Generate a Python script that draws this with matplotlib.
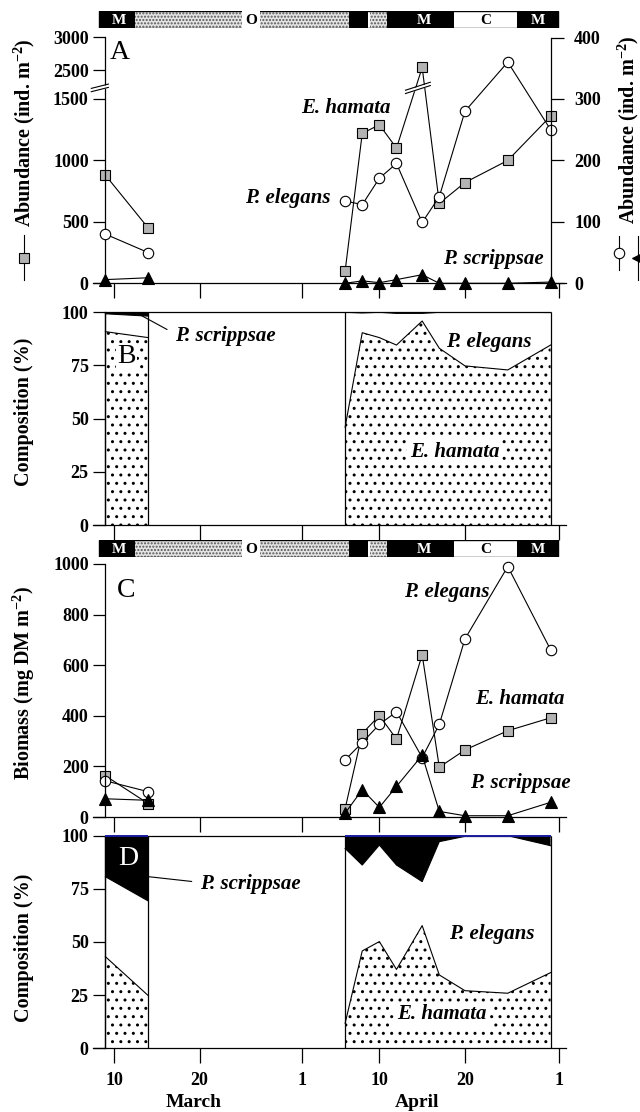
import numpy as np
import matplotlib
matplotlib.use('Agg')
import matplotlib.pyplot as plt
from matplotlib.lines import Line2D
from matplotlib.transforms import blended_transform_factory

plt.rcParams['font.family'] = ['Liberation Serif', 'DejaVu Serif']
plt.rcParams['font.weight'] = 'bold'
plt.rcParams['mathtext.fontset'] = 'custom'
plt.rcParams['mathtext.rm'] = 'Liberation Serif'
plt.rcParams['mathtext.bf'] = 'Liberation Serif:bold'
plt.rcParams['mathtext.it'] = 'Liberation Serif:italic'
plt.rcParams['hatch.linewidth'] = 1.0

# sampling days counted from 1 March (April d -> 31 + d)
days = np.array([9, 14, 37, 39, 41, 43, 46, 48, 51, 56, 61])
segments = [slice(0, 2), slice(2, 11)]

# A: abundance (ind. m-2)
abund_eh = np.array([880, 450, 100, 1220, 1290, 1100, 2540, 650, 820, 1000, 1360])
abund_pe = np.array([80, 50, 134, 128, 171, 195, 99, 141, 280, 360, 250])
abund_ps = np.array([6, 9, 0, 4, 1, 6, 14, 0, 0, 0, 2])

# B: abundance composition (%), upper edge of E. hamata and of E. hamata + P. elegans
compA_eh = np.array([90.9, 88.1, 46.0, 90.4, 88.1, 84.6, 95.9, 83.1, 74.8, 72.9, 84.6])
compA_ehpe = np.array([99.3, 98.2, 100, 99.7, 100, 99.5, 99.5, 100, 100, 100, 99.9])

# C: biomass (mg DM m-2)
bio_eh = np.array([163, 53, 33, 330, 401, 308, 641, 197, 265, 341, 392])
bio_pe = np.array([143, 100, 226, 294, 366, 416, 235, 366, 704, 990, 661])
bio_ps = np.array([72, 66, 15, 108, 38, 121, 244, 22, 5, 5, 58])

# D: biomass composition (%)
compB_eh = np.array([43.1, 24.8, 11.8, 45.8, 50.2, 37.1, 57.7, 34.5, 27.1, 25.9, 35.6])
compB_ehpe = np.array([80.7, 69.3, 94.0, 86.2, 95.6, 86.2, 78.4, 97.2, 99.7, 100, 95.3])

tick_days = [10, 20, 32, 41, 51, 62]
tick_labels = ['10', '20', '1', '10', '20', '1']
month_names = ['March', 'April']
month_days = [19.3, 45.4]

# water-mass periods shown in the bars above A and C
period_start = [8.3, 12.4, 37.5, 39.85, 41.85, 49.7, 57.1]
period_end = [12.4, 37.5, 39.7, 41.85, 49.7, 57.1, 61.9]
period_fill = ['black', 'dots', 'black', 'dots', 'black', 'white', 'black']
period_labels = ['M', 'O', 'M', 'C', 'M']
period_label_days = [10.6, 26.0, 46.2, 53.4, 59.5]

XLIM = (7.55, 62.8)
W, H = 640, 1112


def box(x0, y0, x1, y1):
    return [x0 / W, 1 - y1 / H, (x1 - x0) / W, (y1 - y0) / H]


def fwd(y):
    y = np.asarray(y, dtype=float)
    return np.where(y <= 1590, y / 5.0, 318 + (y - 2226) * 0.106)


def inv(r):
    r = np.asarray(r, dtype=float)
    return np.where(r <= 318, r * 5.0, 2226 + (r - 318) / 0.106)


def style_axes(ax, labels=False):
    ax.set_xlim(XLIM)
    ax.spines['top'].set_visible(False)
    ax.spines['right'].set_visible(False)
    ax.spines['left'].set_position(('data', days[0]))
    for s in ax.spines.values():
        s.set_linewidth(0.9)
    ax.set_xticks(tick_days)
    ax.set_xticklabels(tick_labels if labels else [])
    ax.tick_params(axis='x', direction='out', length=11, width=0.9, pad=6, labelsize=13)
    ax.tick_params(axis='y', direction='out', length=9, width=0.9, pad=3, labelsize=13)
    ax.minorticks_off()
    ax.patch.set_visible(False)


def draw_bar(ax):
    ax.set_xlim(XLIM)
    ax.set_ylim(0, 1)
    ax.axis('off')
    for x0, x1, kind in zip(period_start, period_end, period_fill):
        if kind == 'dots':
            ax.barh(0.5, x1 - x0, left=x0, height=1, facecolor='#e4e4e4',
                    edgecolor='#555555', hatch='.....', linewidth=0)
        else:
            ax.barh(0.5, x1 - x0, left=x0, height=1, color=kind, linewidth=0)
    ax.barh(0.5, period_end[-1] - period_start[0], left=period_start[0], height=1,
            fill=False, edgecolor='black', linewidth=1.0)
    for lab, xd in zip(period_labels, period_label_days):
        if lab == 'M':
            ax.text(xd, 0.45, lab, color='white', ha='center', va='center', fontsize=11)
        elif lab == 'O':
            ax.text(xd, 0.45, lab, color='black', ha='center', va='center', fontsize=11,
                    bbox=dict(facecolor='white', edgecolor='none', pad=2.5))
        else:
            ax.text(xd, 0.45, lab, color='black', ha='center', va='center', fontsize=11)


def draw_break(ax, xc, half_w, yc, rise, gap):
    xs = [xc - half_w, xc + half_w]
    lo = [yc - rise - gap, yc + rise - gap]
    hi = [yc - rise + gap, yc + rise + gap]
    ax.fill_between(xs, lo, hi, color='white', linewidth=0, zorder=5, clip_on=False)
    ax.plot(xs, lo, color='black', lw=0.8, zorder=6, clip_on=False)
    ax.plot(xs, hi, color='black', lw=0.8, zorder=6, clip_on=False)


def draw_composition(ax, eh, ehpe, top_color):
    ax.set_ylim(0, 100)
    ax.set_yticks([0, 25, 50, 75, 100])
    for seg in segments:
        x = days[seg]
        ax.fill_between(x, 0, eh[seg], facecolor='white', edgecolor='black',
                        hatch='..', linewidth=0)
        ax.fill_between(x, ehpe[seg], 100, facecolor='black', linewidth=0)
        ax.plot(x, eh[seg], color='black', lw=0.8)
        ax.plot(x, ehpe[seg], color='black', lw=0.8)
        ax.vlines([x[0], x[-1]], 0, 100, colors='black', lw=0.9, clip_on=False)
    ax.hlines(100, days[0], days[-1], colors='black', lw=0.9, clip_on=False)
    if top_color is not None:
        for seg in segments:
            ax.hlines(100, days[seg][0], days[seg][-1], colors=top_color, lw=1.4,
                      clip_on=False, zorder=4)


sq = dict(marker='s', ms=7, mfc='#b3b3b3', mec='black', mew=0.8, color='black',
          lw=0.8, clip_on=False)
ci = dict(marker='o', ms=7.5, mfc='white', mec='black', mew=0.8, color='black',
          lw=0.8, clip_on=False)
tr = dict(marker='^', ms=8, mfc='black', mec='black', mew=0.8, color='black',
          lw=0.8, clip_on=False)
spec = dict(fontsize=15, fontstyle='italic', fontweight='bold')
letter = dict(fontsize=20, fontweight='normal', ha='center', va='center')

fig = plt.figure(figsize=(W / 100, H / 100), dpi=100)

# ---- bar + panel A ----
draw_bar(fig.add_axes(box(93, 11, 566, 28)))

ax_a = fig.add_axes(box(93, 37.5, 566, 283.3))
ax_a.set_yscale('function', functions=(fwd, inv))
ax_a.set_ylim(0, 3000)
style_axes(ax_a)
ax_a.set_yticks([0, 500, 1000, 1500, 2500, 3000])
ax_a.set_yticklabels(['0', '500', '1000', '1500', '2500', '3000'])
ax_a.minorticks_off()
for seg in segments:
    ax_a.plot(days[seg], abund_eh[seg], **sq)

ax_a2 = ax_a.twinx()
ax_a2.set_ylim(0, 400)
ax_a2.set_xlim(XLIM)
for s in ['left', 'top', 'bottom']:
    ax_a2.spines[s].set_visible(False)
ax_a2.spines['right'].set_position(('data', days[-1]))
ax_a2.spines['right'].set_linewidth(0.9)
ax_a2.set_yticks([0, 100, 200, 300, 400])
ax_a2.tick_params(axis='y', direction='out', length=9, width=0.9, pad=8, labelsize=13)
for seg in segments:
    ax_a2.plot(days[seg], abund_pe[seg], **ci)
    ax_a2.plot(days[seg], abund_ps[seg], **tr)
draw_break(ax_a2, 8.35, 1.0, 318, 3.5, 2.7)
draw_break(ax_a2, 45.5, 1.45, 318, 6.5, 2.7)
ax_a2.text(10.7, 376, 'A', **letter)
ax_a2.text(42.3, 285, 'E. hamata', ha='right', va='center', **spec)
ax_a2.text(35.35, 138, 'P. elegans', ha='right', va='center', **spec)
ax_a2.text(60.15, 39, 'P. scrippsae', ha='right', va='center', **spec)

# ---- panel B ----
ax_b = fig.add_axes(box(93, 312.3, 566, 525))
style_axes(ax_b)
draw_composition(ax_b, compA_eh, compA_ehpe, None)
ax_b.text(11.45, 79, 'B', bbox=dict(facecolor='white', edgecolor='none', pad=1), **letter)
ax_b.annotate('P. scrippsae', xy=(13.1, 98.7), xytext=(17.1, 89.0), ha='left', va='center',
              arrowprops=dict(arrowstyle='-', lw=0.8, color='black', relpos=(0, 0.6),
                              shrinkA=4, shrinkB=0), **spec)
ax_b.text(53.8, 85.9, 'P. elegans', ha='center', va='center', **spec)
ax_b.text(49.8, 34.2, 'E. hamata', ha='center', va='center',
          bbox=dict(facecolor='white', edgecolor='none', pad=2), **spec)

# ---- bar + panel C ----
draw_bar(fig.add_axes(box(93, 540, 566, 557)))

ax_c = fig.add_axes(box(93, 564, 566, 817))
style_axes(ax_c)
ax_c.set_ylim(0, 1000)
ax_c.set_yticks([0, 200, 400, 600, 800, 1000])
for seg in segments:
    ax_c.plot(days[seg], bio_eh[seg], **sq)
    ax_c.plot(days[seg], bio_pe[seg], **ci)
    ax_c.plot(days[seg], bio_ps[seg], **tr)
ax_c.text(11.45, 897, 'C', **letter)
ax_c.text(53.85, 890, 'P. elegans', ha='right', va='center', **spec)
ax_c.text(62.7, 465, 'E. hamata', ha='right', va='center', **spec)
ax_c.text(63.4, 133, 'P. scrippsae', ha='right', va='center', **spec)

# ---- panel D ----
ax_d = fig.add_axes(box(93, 835.7, 566, 1048.3))
style_axes(ax_d, labels=True)
draw_composition(ax_d, compB_eh, compB_ehpe, '#1a1aa0')
ax_d.text(11.67, 89.4, 'D', color='white', **letter)
ax_d.annotate('P. scrippsae', xy=(14.08, 80.7), xytext=(20.05, 77.1), ha='left', va='center',
              arrowprops=dict(arrowstyle='-', lw=0.8, color='black', relpos=(0, 0.6),
                              shrinkA=4, shrinkB=0), **spec)
ax_d.text(54.15, 53.6, 'P. elegans', ha='center', va='center', **spec)
ax_d.text(48.26, 16.0, 'E. hamata', ha='center', va='center',
          bbox=dict(facecolor='white', edgecolor='none', pad=2), **spec)
trans = blended_transform_factory(ax_d.transData, ax_d.transAxes)
for name, xd in zip(month_names, month_days):
    ax_d.text(xd, -0.257, name, transform=trans, ha='center', va='center', fontsize=14)

# ---- axis titles with legend glyphs ----
def ftext(x, y, s, **kw):
    fig.text(x / W, 1 - y / H, s, rotation=90, ha='center', va='center', fontsize=14.5, **kw)


def glyph(x, y0, y1, marker, **kw):
    ym = (y0 + y1) / 2
    fig.add_artist(Line2D([x / W] * 3, [1 - y0 / H, 1 - ym / H, 1 - y1 / H],
                          transform=fig.transFigure, color='black', lw=0.8,
                          marker=marker, markevery=[1], **kw))


sup = r'$^{\mathbf{-2}}$'
ftext(24, 133, 'Abundance (ind. m' + sup + ')')
glyph(24, 235, 280, 's', ms=7, mfc='#b3b3b3', mec='black', mew=0.8)
ftext(628, 130, 'Abundance (ind. m' + sup + ')')
glyph(619, 236, 270, 'o', ms=7.5, mfc='white', mec='black', mew=0.8)
glyph(638, 236, 280, '<', ms=8, mfc='black', mec='black', mew=0.8)
ftext(24, 412, 'Composition (%)')
ftext(24, 683, 'Biomass (mg DM m' + sup + ')')
ftext(24, 948, 'Composition (%)')

fig.savefig('out.png', dpi=100)
